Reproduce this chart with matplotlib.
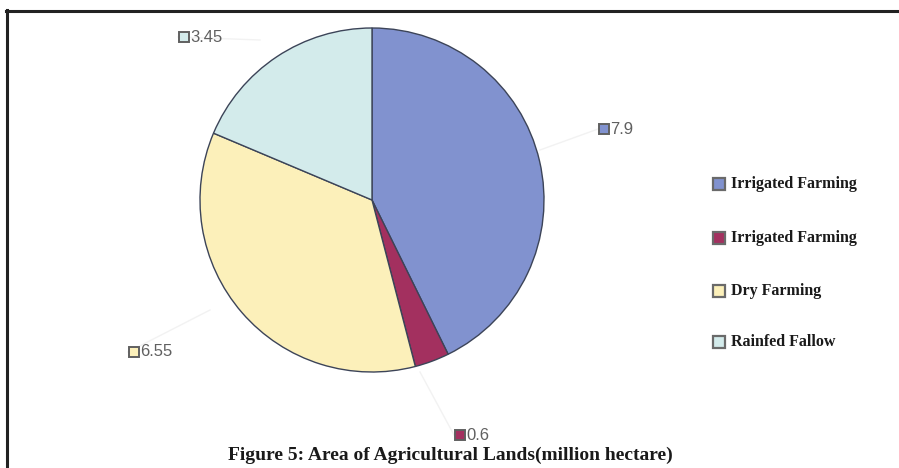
import numpy as np
import matplotlib.pyplot as plt
from matplotlib.lines import Line2D

values = [7.9, 0.6, 6.55, 3.45]
value_labels = ["7.9", "0.6", "6.55", "3.45"]
legend_labels = ["Irrigated Farming", "Irrigated Farming", "Dry Farming", "Rainfed Fallow"]
colors = ["#8192cf", "#a3305f", "#fcf0ba", "#d3ebeb"]
title = "Figure 5: Area of Agricultural Lands(million hectare)"

W, H = 899, 468
fig = plt.figure(figsize=(W / 100, H / 100), dpi=100)

# pie centred at (372, 200) px, radius 172 px
cx, cy, r = 372, 200, 172
ax = fig.add_axes([(cx - r) / W, (H - cy - r) / H, 2 * r / W, 2 * r / H])
wedges, _ = ax.pie(values, colors=colors, startangle=90, counterclock=False,
                   radius=1, wedgeprops=dict(edgecolor="#3c4458", linewidth=1.0))
ax.set_xlim(-1, 1)
ax.set_ylim(-1, 1)
ax.set_aspect("equal")
ax.axis("off")

def px(x, y):
    return x / W, 1 - y / H

# value labels with small square markers (pixel positions)
label_pos = [(604, 129), (460, 435), (134, 352), (184, 37)]
leader_start = [(540, 150), (420, 372), (210, 310), (260, 40)]
for v, col, (lx, ly), (sx, sy) in zip(value_labels, colors, label_pos, leader_start):
    fig.add_artist(Line2D([sx / W, (lx - 6) / W], [1 - sy / H, 1 - ly / H],
                          color="#f2f2f2", lw=1.0, transform=fig.transFigure))
    fig.add_artist(Line2D([lx / W], [1 - ly / H], marker="s", markersize=7.5,
                          markerfacecolor=col, markeredgecolor="#606060",
                          markeredgewidth=1.4, transform=fig.transFigure))
    fig.text(*px(lx + 6, ly), v, fontsize=12, color="#606060",
             family="Liberation Sans", ha="left", va="center")

# legend drawn manually
leg_y = [184, 238, 291, 342]
for lab, col, ly in zip(legend_labels, colors, leg_y):
    fig.add_artist(Line2D([719 / W], [1 - ly / H], marker="s", markersize=8.5,
                          markerfacecolor=col, markeredgecolor="#6a6a6a",
                          markeredgewidth=1.6, transform=fig.transFigure))
    fig.text(*px(731, ly), lab, fontsize=11.5, fontweight="bold",
             family="Liberation Serif", color="#1a1a1a", ha="left", va="center")

fig.text(*px(450, 455), title, fontsize=14, fontweight="bold",
         family="Liberation Serif", color="#1a1a1a", ha="center", va="center")

# frame lines (top and left only)
fig.add_artist(Line2D([6 / W, 1], [1 - 11 / H, 1 - 11 / H], color="#222222",
                      lw=2.2, transform=fig.transFigure))
fig.add_artist(Line2D([7 / W, 7 / W], [0, 1 - 10 / H], color="#222222",
                      lw=2.2, transform=fig.transFigure))

fig.savefig("out.png", dpi=100, facecolor="white")
